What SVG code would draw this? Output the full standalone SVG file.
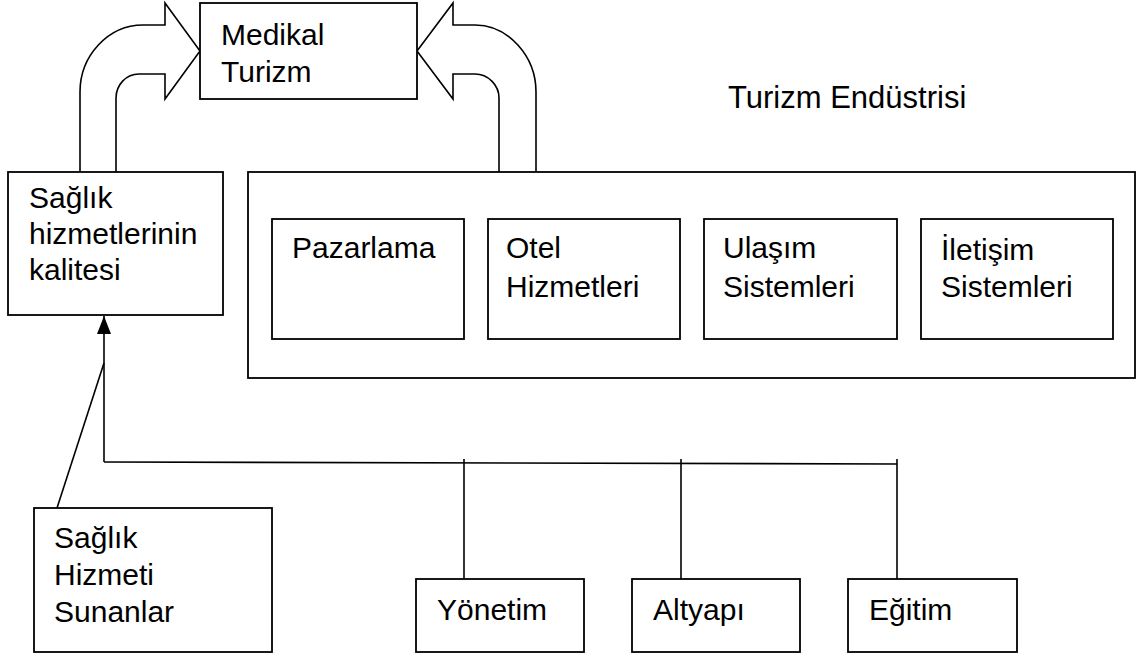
<svg xmlns="http://www.w3.org/2000/svg" width="1137" height="654" viewBox="0 0 1137 654">
  <style>
    .box { fill: #ffffff; stroke: #000000; stroke-width: 1.8; }
    .line { fill: none; stroke: #000000; stroke-width: 1.6; }
    .blk { fill: #ffffff; stroke: #000000; stroke-width: 1.6; stroke-linejoin: miter; }
    .t { font-family: "Liberation Sans", Arial, sans-serif; font-size: 30px; fill: #000000; }
  </style>
  <defs>
    <marker id="tri" viewBox="0 0 18 14" refX="18" refY="7" markerWidth="18" markerHeight="14" markerUnits="userSpaceOnUse" orient="auto">
      <path d="M0,0 L18,7 L0,14 Z" fill="#000000"/>
    </marker>
  </defs>
  <rect x="0" y="0" width="1137" height="654" fill="#ffffff"/>

  <g id="connectors">
    <path class="blk" d="M80,172 V92 C80,56 108,25 143,25 H165 V3 L200,51 L165,99 V74 H139 C126,74 116,85 116,98 V172"/>
    <path class="blk" d="M536,172 V92 C536,56 508,25 475,25 H453 V3 L417,51 L453,99 V74 H475 C488,74 499,85 499,98 V172"/>
    <path class="line" d="M104,462 V316" marker-end="url(#tri)"/>
    <path class="line" d="M104,363 L57,508"/>
    <path class="line" d="M104,462 L897,464"/>
    <path class="line" d="M464,459 V579"/>
    <path class="line" d="M681,459 V579"/>
    <path class="line" d="M897,459 V579"/>
  </g>

  <g id="medikal-turizm">
    <rect class="box" x="200" y="3" width="217" height="96"/>
    <text class="t" x="221" y="45">Medikal</text>
    <text class="t" x="221" y="82">Turizm</text>
  </g>

  <g id="turizm-endustrisi-label">
    <text class="t" x="728" y="108" style="font-size:31px">Turizm Endüstrisi</text>
  </g>

  <g id="saglik-kalitesi">
    <rect class="box" x="8" y="172" width="215" height="143"/>
    <text class="t" x="29" y="208">Sağlık</text>
    <text class="t" x="29" y="244">hizmetlerinin</text>
    <text class="t" x="29" y="280">kalitesi</text>
  </g>

  <g id="turizm-endustrisi">
    <rect class="box" x="248" y="172" width="887" height="206"/>
  </g>

  <g id="pazarlama">
    <rect class="box" x="272" y="219" width="192" height="120"/>
    <text class="t" x="292" y="258">Pazarlama</text>
  </g>

  <g id="otel-hizmetleri">
    <rect class="box" x="488" y="219" width="192" height="120"/>
    <text class="t" x="506" y="258">Otel</text>
    <text class="t" x="506" y="297">Hizmetleri</text>
  </g>

  <g id="ulasim-sistemleri">
    <rect class="box" x="704" y="219" width="193" height="120"/>
    <text class="t" x="723" y="258">Ulaşım</text>
    <text class="t" x="723" y="297">Sistemleri</text>
  </g>

  <g id="iletisim-sistemleri">
    <rect class="box" x="921" y="219" width="192" height="120"/>
    <text class="t" x="941" y="260">İletişim</text>
    <text class="t" x="941" y="297">Sistemleri</text>
  </g>

  <g id="saglik-hizmeti-sunanlar">
    <rect class="box" x="34" y="508" width="238" height="144"/>
    <text class="t" x="54" y="548">Sağlık</text>
    <text class="t" x="54" y="585">Hizmeti</text>
    <text class="t" x="54" y="622">Sunanlar</text>
  </g>

  <g id="yonetim">
    <rect class="box" x="416" y="579" width="168" height="73"/>
    <text class="t" x="437" y="620">Yönetim</text>
  </g>

  <g id="altyapi">
    <rect class="box" x="632" y="579" width="168" height="73"/>
    <text class="t" x="653" y="620">Altyapı</text>
  </g>

  <g id="egitim">
    <rect class="box" x="848" y="579" width="169" height="73"/>
    <text class="t" x="869" y="620">Eğitim</text>
  </g>
</svg>
